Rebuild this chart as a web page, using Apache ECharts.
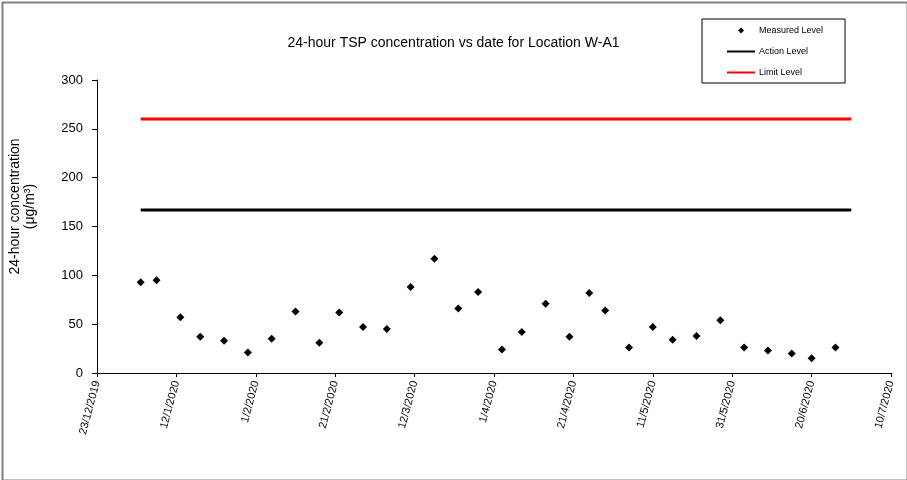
<!DOCTYPE html>
<html><head><meta charset="utf-8">
<script src="https://cdn.jsdelivr.net/npm/echarts@6/dist/echarts.min.js"></script>
<style>html,body{margin:0;padding:0;background:#fff}#c{width:907px;height:480px}</style>
</head><body><div id="c"></div>
<script>
// ---- data ----
const axisStart = '2019-12-23';
const axisEnd = '2020-07-10';
const tickStepDays = 20;
const yTicks = [0, 50, 100, 150, 200, 250, 300];
const measuredDates = ['2020-01-03','2020-01-07','2020-01-13','2020-01-18','2020-01-24','2020-01-30','2020-02-05','2020-02-11','2020-02-17','2020-02-22','2020-02-28','2020-03-05','2020-03-11','2020-03-17','2020-03-23','2020-03-28','2020-04-03','2020-04-08','2020-04-14','2020-04-20','2020-04-25','2020-04-29','2020-05-05','2020-05-11','2020-05-16','2020-05-22','2020-05-28','2020-06-03','2020-06-09','2020-06-15','2020-06-20','2020-06-26'];
const measuredValues = [93,95,57,37,33,21,35,63,31,62,47,45,88,117,66,83,24,42,71,37,82,64,26,47,34,38,54,26,23,20,15,26];
const levelDates = ['2020-01-03','2020-06-30'];
const actionLevel = 167;
const limitLevel = 260;
const seriesNames = ['Measured Level','Action Level','Limit Level'];
const titleText = '24-hour TSP concentration vs date for Location W-A1';
const yAxisName = '24-hour concentration\n(μg/m³)';

// ---- helpers ----
const ORIGIN = Date.UTC(2019, 11, 23);
function dayOffset(s){const p=s.split('-').map(Number);return (Date.UTC(p[0],p[1]-1,p[2])-ORIGIN)/86400000;}
function fmt(off){const t=new Date(ORIGIN+off*86400000);return t.getUTCDate()+'/'+(t.getUTCMonth()+1)+'/'+t.getUTCFullYear();}
const FONT = '"Liberation Sans", Arial, sans-serif';

const chart = echarts.init(document.getElementById('c'), null, {renderer:'canvas'});
chart.setOption({
  backgroundColor:'#fff',
  animation:false,
  textStyle:{fontFamily:FONT, color:'#000'},
  title:{text:titleText,left:'center',top:31,textStyle:{fontFamily:FONT,fontSize:14,fontWeight:'normal',color:'#000'}},
  legend:{
    orient:'vertical', left:702, top:19,
    padding:[6,22,5,24], itemGap:10, itemWidth:28, itemHeight:6,
    borderColor:'#000', borderWidth:1,
    textStyle:{fontFamily:FONT,fontSize:9,color:'#000',lineHeight:11,padding:[0,0,0,-1]},
    data:[{name:seriesNames[0],icon:'path://M0,-1L1,0L0,1L-1,0Z',itemStyle:{opacity:1}},
          {name:seriesNames[1],itemStyle:{opacity:0}},
          {name:seriesNames[2],itemStyle:{opacity:0}}],
    symbolKeepAspect:true
  },
  grid:{left:97,right:16,top:80,bottom:107,containLabel:false,outerBoundsMode:'none'},
  xAxis:{
    type:'value', min:dayOffset(axisStart), max:dayOffset(axisEnd), interval:tickStepDays,
    axisLine:{lineStyle:{color:'#000',width:1}},
    axisTick:{show:true,length:4,lineStyle:{color:'#000'}},
    splitLine:{show:false},
    axisLabel:{rotate:75,fontSize:11,fontFamily:FONT,color:'#000',margin:8,formatter:v=>fmt(v)}
  },
  yAxis:{
    type:'value', min:yTicks[0], max:yTicks[yTicks.length-1], interval:yTicks[1]-yTicks[0],
    axisLine:{show:true,lineStyle:{color:'#000',width:1}},
    axisTick:{show:true,length:5,lineStyle:{color:'#000'}},
    splitLine:{show:false},
    axisLabel:{fontSize:13,fontFamily:FONT,color:'#000',margin:14},
    name:yAxisName, nameLocation:'middle', nameRotate:90, nameGap:59,
    nameTextStyle:{fontSize:14,fontFamily:FONT,color:'#000',lineHeight:15,align:'center',padding:[0,0,0,40]}
  },
  series:[
    {name:seriesNames[0],type:'scatter',symbol:'diamond',symbolSize:8,itemStyle:{color:'#000',opacity:1},
     data:measuredDates.map((d,i)=>[dayOffset(d),measuredValues[i]])},
    {name:seriesNames[1],type:'line',symbol:'none',lineStyle:{color:'#000',width:3},itemStyle:{color:'#000'},
     data:levelDates.map(d=>[dayOffset(d),actionLevel])},
    {name:seriesNames[2],type:'line',symbol:'none',lineStyle:{color:'#ff0000',width:3},itemStyle:{color:'#ff0000'},
     data:levelDates.map(d=>[dayOffset(d),limitLevel])}
  ],
  graphic:[{type:'rect',left:0,top:0,shape:{x:0,y:0,width:905,height:478},style:{fill:'none',stroke:'#808080',lineWidth:2},silent:true}]
});
</script></body></html>
